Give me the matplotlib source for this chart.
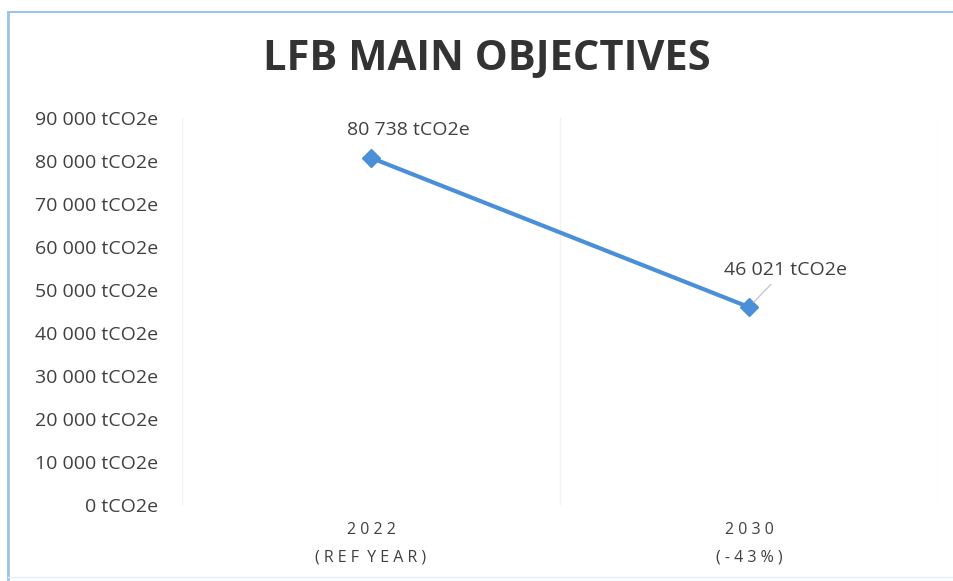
import matplotlib.pyplot as plt
from matplotlib.lines import Line2D

years = ["2 0 2 2\n( R E F  Y E A R )", "2 0 3 0\n( - 4 3 % )"]
emissions = [80738, 46021]
point_labels = ["80 738 tCO2e", "46 021 tCO2e"]
yticks = [0, 10000, 20000, 30000, 40000, 50000, 60000, 70000, 80000, 90000]
ytick_labels = ["0 tCO2e", "10 000 tCO2e", "20 000 tCO2e", "30 000 tCO2e", "40 000 tCO2e",
                "50 000 tCO2e", "60 000 tCO2e", "70 000 tCO2e", "80 000 tCO2e", "90 000 tCO2e"]

plt.rcParams['font.family'] = ['Open Sans', 'DejaVu Sans']

fig = plt.figure(figsize=(9.54, 5.81), dpi=100)
ax = fig.add_axes([182/954, 1-505/581, (938-182)/954, (505-118)/581])

x = [0.5, 1.5]
ax.plot(x, emissions, color="#4a8fd8", lw=3, marker="D", ms=9, zorder=3)
ax.set_xlim(0, 2)
ax.set_ylim(0, 90000)
ax.set_yticks(yticks)
ax.set_yticklabels(ytick_labels, fontsize=14, color="#404040")
ax.set_xticks(x)
ax.set_xticklabels(years, fontsize=11.5, color="#404040", linespacing=2.0)
ax.tick_params(length=0)
ax.tick_params(axis="y", pad=17)
ax.tick_params(axis="x", pad=12)
for s in ax.spines.values():
    s.set_visible(False)
for gx in [0, 1, 2]:
    ax.axvline(gx, color="#f2f2f2", lw=1, zorder=0)

# data labels
ax.annotate(point_labels[0], (x[0], emissions[0]), xytext=(27, 20), textcoords="offset points",
            ha="center", va="center", fontsize=14, color="#404040")
ax.annotate(point_labels[1], (x[1], emissions[1]), xytext=(26, 27), textcoords="offset points",
            ha="center", va="center", fontsize=14, color="#404040",
            arrowprops=dict(arrowstyle="-", color="#c8c8c8", lw=1, shrinkA=3, shrinkB=5))

fig.text(487/954, 1-60/581, "LFB MAIN OBJECTIVES", ha="center", va="center",
         fontsize=30, fontweight="bold", color="#333333")

# chart frame
fig.add_artist(Line2D([8/954, 8/954], [0, 1-12/581], color="#9dc3e6", lw=2))
fig.add_artist(Line2D([8/954, 1], [1-12/581, 1-12/581], color="#9dc3e6", lw=1.5))
fig.add_artist(Line2D([8/954, 1], [4/581, 4/581], color="#e3eef8", lw=1))

fig.savefig("out.png", dpi=100)
